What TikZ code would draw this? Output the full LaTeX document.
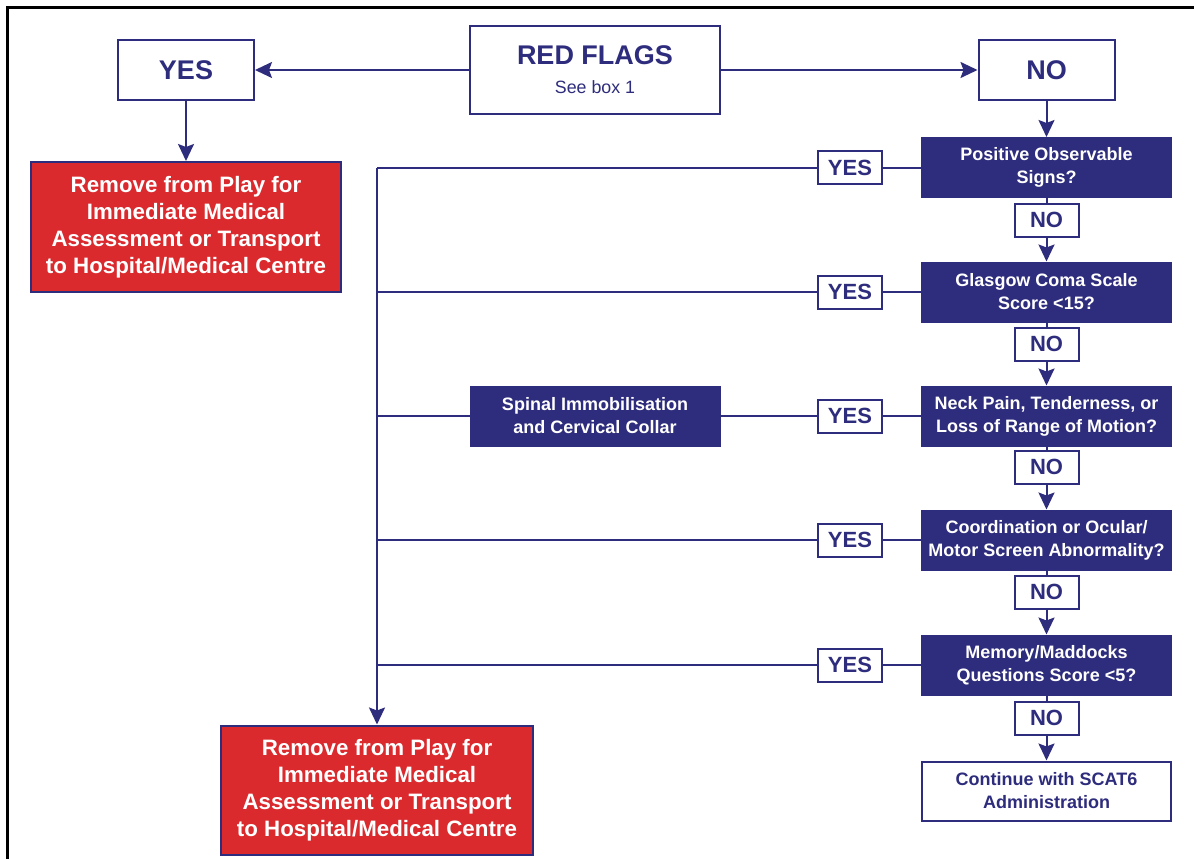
\documentclass[tikz,border=0pt]{standalone}
\usepackage{fontspec}
\setmainfont{Liberation Sans}
\usetikzlibrary{arrows.meta}
\definecolor{navy}{RGB}{46,44,124}
\definecolor{flagred}{RGB}{218,42,46}

\begin{document}
\begin{tikzpicture}[x=1pt,y=-1pt]

\tikzset{box/.style = {shape=rectangle,draw=navy,line width=2pt,fill=white,text=navy,inner sep=0pt,align=center}}
\tikzset{bigbox/.style = {box,minimum width=136pt,minimum height=60pt,font=\fontsize{27}{30}\selectfont\bfseries}}
\tikzset{question/.style = {box,fill=navy,text=white,minimum width=249pt,minimum height=59pt,font=\fontsize{18}{23}\selectfont\bfseries}}
\tikzset{answer/.style = {box,minimum width=64pt,minimum height=33pt,font=\fontsize{22}{24}\selectfont\bfseries}}
\tikzset{removebox/.style = {box,fill=flagred,text=white,minimum width=310pt,minimum height=130pt,font=\fontsize{22.3}{27}\selectfont\bfseries}}
\tikzset{edge/.style = {draw=navy,line width=2pt,-{Stealth[length=17pt,width=16pt,inset=3pt]}}}
\tikzset{link/.style = {draw=navy,line width=2pt}}

\useasboundingbox (0,0) rectangle (1194,859);
\draw[line width=3pt] (7,859) -- (7,8) -- (1194,8);

% vertices
\node[box,minimum width=250pt,minimum height=88pt,font=\fontsize{27}{29}\selectfont\bfseries] (flags) at (595,70) {RED FLAGS\\{\mdseries\fontsize{17.8}{20}\selectfont See box 1}};
\node[bigbox] (yes) at (186,70) {YES};
\node[bigbox] (no) at (1046.5,70) {NO};
\node[removebox] (remove1) at (186,227) {Remove from Play for\\Immediate Medical\\Assessment or Transport\\to Hospital/Medical Centre};

\node[question] (q1) at (1046.5,167.5) {Positive Observable\\Signs?};
\node[question] (q2) at (1046.5,292) {Glasgow Coma Scale\\Score <15?};
\node[question] (q3) at (1046.5,416) {Neck Pain, Tenderness, or\\Loss of Range of Motion?};
\node[question] (q4) at (1046.5,540) {Coordination or Ocular/\\Motor Screen Abnormality?};
\node[question] (q5) at (1046.5,665) {Memory/Maddocks\\Questions Score <5?};
\node[question,fill=white,text=navy] (cont) at (1046.5,791) {Continue with SCAT6\\Administration};

\node[answer] (no1) at (1046.5,220) {NO};
\node[answer] (no2) at (1046.5,344) {NO};
\node[answer] (no3) at (1046.5,467) {NO};
\node[answer] (no4) at (1046.5,592) {NO};
\node[answer] (no5) at (1046.5,718) {NO};

\node[answer] (yes1) at (850,167.5) {YES};
\node[answer] (yes2) at (850,292) {YES};
\node[answer] (yes3) at (850,416) {YES};
\node[answer] (yes4) at (850,540) {YES};
\node[answer] (yes5) at (850,665) {YES};

\node[question] (spinal) at (595,416) {Spinal Immobilisation\\and Cervical Collar};
\node[removebox,minimum width=312pt,minimum height=129pt] (remove2) at (377,790) {Remove from Play for\\Immediate Medical\\Assessment or Transport\\to Hospital/Medical Centre};
\coordinate (top) at (377,167.5);

%edges
\draw[edge] (flags) -- (yes);
\draw[edge] (flags) -- (no);
\draw[edge] (yes) -- (remove1);
\draw[edge] (no) -- (q1);
\draw[link] (q1) -- (no1);
\draw[edge] (no1) -- (q2);
\draw[link] (q2) -- (no2);
\draw[edge] (no2) -- (q3);
\draw[link] (q3) -- (no3);
\draw[edge] (no3) -- (q4);
\draw[link] (q4) -- (no4);
\draw[edge] (no4) -- (q5);
\draw[link] (q5) -- (no5);
\draw[edge] (no5) -- (cont);
\draw[link] (q1) -- (yes1);
\draw[link] (q2) -- (yes2);
\draw[link] (q3) -- (yes3);
\draw[link] (q4) -- (yes4);
\draw[link] (q5) -- (yes5);
\draw[link] (yes3) -- (spinal);
\draw[link] (yes1) -- (top);
\draw[link] (yes2) -- (yes2 -| top);
\draw[link] (spinal) -- (spinal -| top);
\draw[link] (yes4) -- (yes4 -| top);
\draw[link] (yes5) -- (yes5 -| top);
\draw[edge] (top) -- (remove2);
\end{tikzpicture}
\end{document}
